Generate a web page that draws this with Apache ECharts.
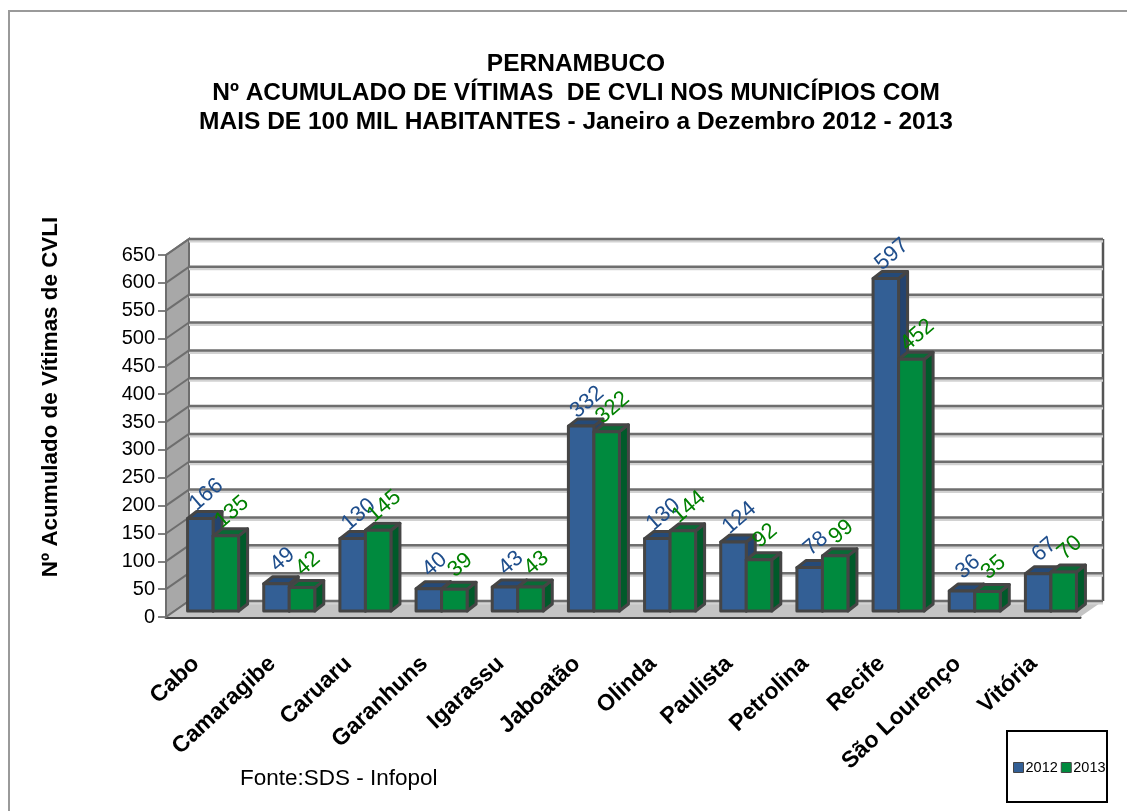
<!DOCTYPE html>
<html>
<head>
<meta charset="utf-8">
<style>html,body{margin:0;padding:0;background:#fff}#chart{width:1127px;height:811px}</style>
<script src="https://cdn.jsdelivr.net/npm/echarts@6/dist/echarts.min.js"></script>
</head>
<body>
<div id="chart"></div>
<script>
const municipios = ['Cabo', 'Camaragibe', 'Caruaru', 'Garanhuns', 'Igarassu', 'Jaboatão', 'Olinda', 'Paulista', 'Petrolina', 'Recife', 'São Lourenço', 'Vitória'];
const valores2012 = [166, 49, 130, 40, 43, 332, 130, 124, 78, 597, 36, 67];
const valores2013 = [135, 42, 145, 39, 43, 322, 144, 92, 99, 452, 35, 70];
const ticksY = [0, 50, 100, 150, 200, 250, 300, 350, 400, 450, 500, 550, 600, 650];

const FONT = '"Liberation Sans", Arial, sans-serif';
// deslocamento da parede do fundo e da frente das barras (px)
const WALL_DX = 23, WALL_DY = -16;
const BAR_DX = 9, BAR_DY = -6;
const DEPTH_DX = 9, DEPTH_DY = -7;
const EDGE = '#454545';

function poly(points, fill) {
  return {
    type: 'polygon',
    shape: { points: points },
    style: { fill: fill, stroke: EDGE, lineWidth: 3, lineJoin: 'round' }
  };
}

function line(x1, y1, x2, y2, color, width) {
  return {
    type: 'line',
    shape: { x1: x1, y1: y1, x2: x2, y2: y2 },
    style: { stroke: color, lineWidth: width, fill: null }
  };
}

// paredes e piso
function renderWalls(params, api) {
  const lastCat = municipios.length - 1;
  const band = api.size([1, 0])[0];
  const o = api.coord([0, 0]);
  const t = api.coord([0, 650]);
  const left = o[0] - band / 2;
  const right = api.coord([lastCat, 0])[0] + band / 2;
  const bottom = o[1], top = t[1];
  return {
    type: 'group',
    children: [
      { type: 'polygon', shape: { points: [[left, top], [left + WALL_DX, top + WALL_DY], [left + WALL_DX, bottom + WALL_DY], [left, bottom]] },
        style: { fill: '#a8a8a8', stroke: '#6e6e6e', lineWidth: 2 } },
      { type: 'polygon', shape: { points: [[left, bottom], [left + WALL_DX, bottom + WALL_DY], [right + WALL_DX, bottom + WALL_DY], [right, bottom]] },
        style: { fill: '#c4c4c4' } },
      line(right + WALL_DX, top + WALL_DY, right + WALL_DX, bottom + WALL_DY, '#555555', 2.5)
    ]
  };
}

// linhas de grade na parede do fundo + inclinada na parede lateral
function renderGrid(params, api) {
  const lastCat = municipios.length - 1;
  const band = api.size([1, 0])[0];
  const left = api.coord([0, 0])[0] - band / 2;
  const right = api.coord([lastCat, 0])[0] + band / 2;
  const y = api.coord([0, api.value(0)])[1];
  return {
    type: 'group',
    children: [
      line(left + WALL_DX, y + WALL_DY + 2, right + WALL_DX, y + WALL_DY + 2, '#d2d2d2', 3),
      line(left + WALL_DX, y + WALL_DY, right + WALL_DX, y + WALL_DY, '#6e6e6e', 2.5),
      line(left, y, left + WALL_DX, y + WALL_DY, '#6e6e6e', 2)
    ]
  };
}

function barRenderer(side, front, topFace, sideFace, labelColor) {
  return function (params, api) {
    const cat = api.value(0);
    const val = api.value(1);
    const base = api.coord([cat, 0]);
    const head = api.coord([cat, val]);
    const band = api.size([1, 0])[0];
    const w = band * 0.335;
    const x0 = base[0] + BAR_DX + (side < 0 ? -w : 0);
    const x1 = x0 + w;
    const yB = base[1] + BAR_DY;
    const yT = head[1] + BAR_DY;
    return {
      type: 'group',
      children: [
        poly([[x1, yB], [x1 + DEPTH_DX, yB + DEPTH_DY], [x1 + DEPTH_DX, yT + DEPTH_DY], [x1, yT]], sideFace),
        poly([[x0, yT], [x0 + DEPTH_DX, yT + DEPTH_DY], [x1 + DEPTH_DX, yT + DEPTH_DY], [x1, yT]], topFace),
        poly([[x0, yB], [x1, yB], [x1, yT], [x0, yT]], front),
        {
          type: 'text',
          x: (x0 + x1) / 2 + 6,
          y: yT - 24,
          rotation: Math.PI / 4.4,
          style: {
            text: String(val),
            fill: labelColor,
            font: '22px ' + FONT,
            align: 'center',
            verticalAlign: 'middle'
          }
        }
      ]
    };
  };
}

const chart = echarts.init(document.getElementById('chart'));

chart.setOption({
  animation: false,
  backgroundColor: '#ffffff',
  title: {
    text: 'PERNAMBUCO\nNº ACUMULADO DE VÍTIMAS  DE CVLI NOS MUNICÍPIOS COM\nMAIS DE 100 MIL HABITANTES - Janeiro a Dezembro 2012 - 2013',
    left: 571,
    top: 45,
    textAlign: 'center',
    textStyle: { fontFamily: FONT, fontSize: 24.5, fontWeight: 'bold', color: '#000', lineHeight: 29 }
  },
  legend: {
    data: ['2012', '2013'],
    left: 1013,
    top: 760,
    padding: 0,
    itemGap: 3,
    itemWidth: 10,
    itemHeight: 10,
    icon: 'rect',
    itemStyle: { borderColor: '#454545', borderWidth: 1 },
    textStyle: { fontFamily: FONT, fontSize: 14.5, color: '#000', padding: [0, 0, 0, -3] }
  },
  grid: { left: 166, top: 255, width: 914, height: 362, containLabel: false },
  xAxis: {
    type: 'category',
    data: municipios,
    axisTick: { show: false },
    axisLine: { lineStyle: { color: '#454545', width: 3 } },
    axisLabel: { rotate: 43, interval: 0, margin: 36, padding: [0, 11, 0, 0], fontFamily: FONT, fontSize: 23, fontWeight: 'bold', color: '#000' }
  },
  yAxis: {
    type: 'value',
    min: 0,
    max: 650,
    interval: 50,
    axisLine: { show: false },
    axisTick: { show: true, length: 8, lineStyle: { color: '#808080', width: 2 } },
    splitLine: { show: false },
    axisLabel: { margin: 11, fontFamily: FONT, fontSize: 20, color: '#000' }
  },
  graphic: [
    { type: 'polyline', silent: true, shape: { points: [[1127, 11], [9, 11], [9, 811]] }, style: { stroke: '#9a9a9a', lineWidth: 2, fill: null } },
    { type: 'text', silent: true, x: 51, y: 397, rotation: Math.PI / 2, style: { text: 'Nº Acumulado de Vítimas de CVLI', fill: '#000', font: 'bold 22.4px ' + FONT, align: 'center', verticalAlign: 'middle' } },
    { type: 'text', silent: true, x: 240, y: 767, style: { text: 'Fonte:SDS - Infopol', fill: '#000', font: '22.5px ' + FONT } },
    { type: 'rect', silent: true, shape: { x: 1007, y: 731, width: 100, height: 71 }, style: { fill: null, stroke: '#000', lineWidth: 2 } }
  ],
  series: [
    { type: 'custom', name: 'paredes', silent: true, z: 1, data: [[0, 0]], encode: { x: 0, y: 1 }, renderItem: renderWalls },
    { type: 'custom', name: 'grade', silent: true, z: 2, data: ticksY.map(v => [v]), encode: { y: 0 }, renderItem: renderGrid },
    { type: 'custom', name: '2012', z: 3, itemStyle: { color: '#335f95' }, data: valores2012.map((v, i) => [i, v]), encode: { x: 0, y: 1 },
      renderItem: barRenderer(-1, '#335f95', '#254a78', '#24446f', '#1f4e8c') },
    { type: 'custom', name: '2013', z: 4, itemStyle: { color: '#008a3e' }, data: valores2013.map((v, i) => [i, v]), encode: { x: 0, y: 1 },
      renderItem: barRenderer(1, '#008a3e', '#0a6a36', '#005a2a', '#008000') }
  ]
});
</script>
</body>
</html>
